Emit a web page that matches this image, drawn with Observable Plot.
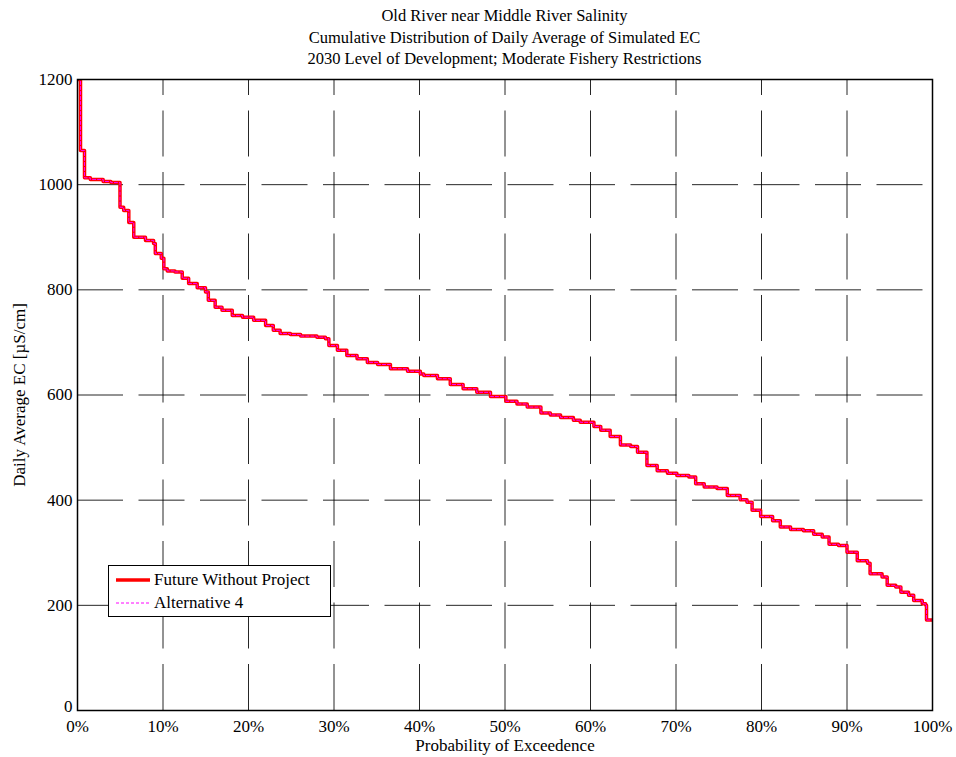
<!DOCTYPE html>
<html>
<head>
<meta charset="utf-8">
<script src="https://cdn.jsdelivr.net/npm/d3@7"></script>
<script src="https://cdn.jsdelivr.net/npm/@observablehq/plot@0.6"></script>
<style>
  body { margin: 0; background: #fff; }
  #wrap { position: relative; width: 956px; height: 757px; font-family: "Liberation Serif", "Times New Roman", serif; }
  #title { position: absolute; left: 77px; top: 5px; width: 855px; text-align: center; font-size: 16.5px; line-height: 21.5px; color: #000; }
  #chart { position: absolute; left: 0; top: 72px; }
  #legend { position: absolute; left: 108px; top: 565px; width: 221px; height: 50px; border: 1px solid #000; background: #fff; font-size: 17px; }
  .lg { position: absolute; left: 6px; height: 22px; display: flex; align-items: center; }
  .lg svg { margin-right: 3px; }
</style>
</head>
<body>
<div id="wrap">
  <div id="title"></div>
  <div id="chart"></div>
  <div id="legend"></div>
</div>
<script>
const titleLines = [
  "Old River near Middle River Salinity",
  "Cumulative Distribution of Daily Average of Simulated EC",
  "2030 Level of Development; Moderate Fishery Restrictions"
];
const seriesNames = ["Future Without Project", "Alternative 4"];
const xTicks = [0, 10, 20, 30, 40, 50, 60, 70, 80, 90, 100];
const yTicks = [0, 200, 400, 600, 800, 1000, 1200];

// Probability of exceedence (%) and EC (uS/cm)
const exceedPct = [
  0, 0.35, 0.82, 1.5, 3.0, 3.9, 4.97, 5.4, 6.0, 6.58, 7.95, 8.9, 9.1, 9.8, 10.1,
  10.5, 11.4, 12.25, 13.0, 14.0, 14.97, 15.3, 16.1, 16.9, 18.1, 19.3, 20.6, 22.0,
  22.9, 23.7, 24.9, 26.1, 28.0, 29.0, 29.4, 30.4, 31.5, 32.7, 33.9, 35.1, 36.6,
  38.6, 40.1, 40.5, 42.1, 43.6, 45.1, 46.7, 48.3, 50.1, 51.4, 52.6, 54.2, 55.3,
  56.5, 58.0, 58.8, 60.4, 61.2, 62.3, 63.5, 64.7, 65.5, 66.6, 67.8, 69.0, 70.1,
  71.5, 72.3, 73.3, 74.8, 76.0, 77.5, 78.3, 78.9, 79.9, 81.3, 82.2, 83.4, 84.9,
  86.1, 87.1, 87.9, 89.0, 90.0, 91.2, 92.4, 92.7, 94.1, 94.7, 95.7, 96.3, 97.2,
  97.8, 98.8, 99.2, 99.3, 100
];
const ecFutureWithout = [
  1200, 1065, 1013, 1010, 1006, 1004, 957, 951, 928, 900, 894, 888, 869, 860, 840,
  836, 834, 822, 812, 804, 796, 780, 767, 761, 751, 748, 742, 732,
  723, 717, 715, 712, 710, 707, 694, 685, 675, 669, 662, 658, 650,
  645, 640, 637, 631, 620, 612, 605, 597, 588, 583, 577, 566, 562,
  557, 552, 548, 540, 533, 521, 505, 502, 491, 466, 456, 451, 447,
  444, 431, 425, 422, 409, 401, 396, 381, 369, 361, 349, 344, 342,
  335, 330, 316, 314, 301, 285, 280, 260, 254, 238, 235, 225, 219,
  209, 203, 200, 172, 172
];
const ecAlternative4 = ecFutureWithout.slice();

const dataA = exceedPct.map((x, i) => ({x, y: ecFutureWithout[i]}));
const dataB = exceedPct.map((x, i) => ({x, y: ecAlternative4[i]}));

document.getElementById("title").innerHTML = titleLines.map(t => `<div>${t}</div>`).join("");

const chart = Plot.plot({
  width: 956,
  height: 685,
  marginTop: 7,
  marginBottom: 47,
  marginLeft: 77,
  marginRight: 24,
  style: {fontFamily: "'Liberation Serif', 'Times New Roman', serif", fontSize: "17px", color: "#000", background: "#fff", overflow: "visible"},
  x: {domain: [0, 100]},
  y: {domain: [0, 1200]},
  marks: [
    Plot.ruleY(yTicks.slice(1, -1), {x1: 0, x2: 100, stroke: "#000", strokeWidth: 1, strokeOpacity: 0.85, strokeDasharray: "46,15.5"}),
    Plot.ruleX(xTicks.slice(1, -1), {y1: 0, y2: 1200, stroke: "#000", strokeWidth: 1, strokeOpacity: 0.85, strokeDasharray: "46,15.5"}),
    Plot.axisX({ticks: xTicks, tickSize: 0, tickPadding: 9, tickFormat: d => d + "%", label: "Probability of Exceedence", labelAnchor: "center", labelArrow: "none", labelOffset: 40}),
    Plot.axisY({ticks: yTicks.slice(1), tickSize: 0, tickPadding: 5, tickFormat: d => String(d), label: "Daily Average EC [µS/cm]", labelAnchor: "center", labelArrow: "none", labelOffset: 65}),
    Plot.axisY({ticks: yTicks.slice(0, 1), tickSize: 0, tickPadding: 5, dy: -4, tickFormat: d => String(d), label: null}),
    Plot.line(dataA, {x: "x", y: "y", curve: "step-after", stroke: "#ff0000", strokeWidth: 3.5, clip: true}),
    Plot.line(dataB, {x: "x", y: "y", curve: "step-after", stroke: "#ff00ff", strokeWidth: 1, strokeDasharray: "3,2", clip: true}),
    Plot.frame({stroke: "#000", strokeWidth: 1.5})
  ]
});
document.getElementById("chart").appendChild(chart);

const lg = document.getElementById("legend");
lg.innerHTML = `
  <div class="lg" style="top:3px"><svg width="36" height="10"><line x1="1" x2="35" y1="5" y2="5" stroke="#ff0000" stroke-width="3.5"/></svg>${seriesNames[0]}</div>
  <div class="lg" style="top:26px"><svg width="36" height="10"><line x1="1" x2="35" y1="5" y2="5" stroke="#ff00ff" stroke-width="1" stroke-dasharray="3,2"/></svg>${seriesNames[1]}</div>`;
</script>
</body>
</html>
